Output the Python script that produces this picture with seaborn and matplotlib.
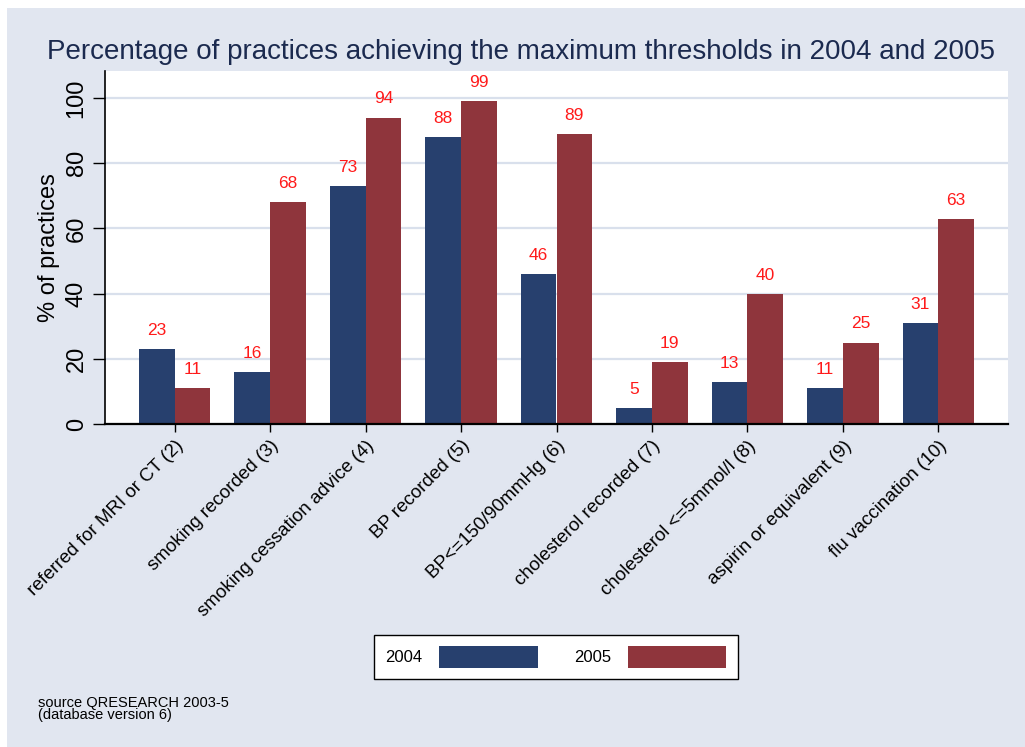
import pandas as pd
import matplotlib.pyplot as plt
import seaborn as sns
from matplotlib.patches import Rectangle

categories = ["referred for MRI or CT (2)", "smoking recorded (3)", "smoking cessation advice (4)",
              "BP recorded (5)", "BP<=150/90mmHg (6)", "cholesterol recorded (7)",
              "cholesterol <=5mmol/l (8)", "aspirin or equivalent (9)", "flu vaccination (10)"]
values_2004 = [23, 16, 73, 88, 46, 5, 13, 11, 31]
values_2005 = [11, 68, 94, 99, 89, 19, 40, 25, 63]
years = ["2004", "2005"]

df = pd.DataFrame({
    "category": categories * 2,
    "year": [years[0]] * len(categories) + [years[1]] * len(categories),
    "value": values_2004 + values_2005,
})

plt.rcParams["font.family"] = ["Liberation Sans", "DejaVu Sans"]

bg = "#E1E6F0"
grid = "#D9E0EC"
fig = plt.figure(figsize=(10.25, 7.47), dpi=100)
fig.patch.set_facecolor("white")
fig.patches.append(Rectangle((7 / 1025, 0), 1, 1 - 8 / 747, transform=fig.transFigure,
                             facecolor=bg, edgecolor="none", zorder=-10))

ax = fig.add_axes([105 / 1025, 1 - 424 / 747, (1008 - 105) / 1025, (424 - 71) / 747])
sns.barplot(data=df, x="category", y="value", hue="year", palette=["#27406E", "#8F353C"],
            width=0.75, saturation=1, ax=ax, legend=True)
ax.set_facecolor("white")
for c in ax.containers:
    ax.bar_label(c, fmt="%d", padding=8, color="#FF1A1A", fontsize=12.5)

ax.set_xlim(-0.73, 8.73)
ax.set_ylim(0, 108.3)
ax.set_yticks([0, 20, 40, 60, 80, 100])
ax.yaxis.grid(True, color=grid, linewidth=1.6)
ax.set_axisbelow(True)
for s in ["top", "right"]:
    ax.spines[s].set_visible(False)
ax.spines["left"].set_linewidth(1.2)
ax.spines["bottom"].set_linewidth(1.6)
ax.tick_params(axis="y", labelsize=17, rotation=90, length=9, width=1)
ax.tick_params(axis="x", length=6, width=1)
for lbl in ax.get_yticklabels():
    lbl.set_va("center")
ax.set_xticks(range(len(categories)))
ax.set_xticklabels(categories, rotation=45, ha="right", rotation_mode="anchor", fontsize=13.5)
ax.set_xlabel("")
ax.set_ylabel("% of practices", fontsize=17, labelpad=4)

fig.text(0.508, 1 - 52 / 747, "Percentage of practices achieving the maximum thresholds in 2004 and 2005",
         ha="center", va="center", fontsize=20, color="#1B2A4F",
         family=["Liberation Sans Narrow", "Liberation Sans"])

ax.legend_.remove()
handles, labels = ax.get_legend_handles_labels()
leg = fig.legend(handles, labels, ncol=2, loc="center", bbox_to_anchor=(556 / 1025, 1 - 657 / 747),
                 markerfirst=False, handlelength=5.9, handleheight=1.6, fontsize=12,
                 frameon=True, fancybox=False, edgecolor="black", framealpha=1, facecolor="white",
                 borderpad=0.7, columnspacing=2.2, handletextpad=1.0, borderaxespad=0)
leg.get_frame().set_linewidth(1.0)

fig.text(38 / 1025, 1 - 709 / 747, "source QRESEARCH 2003-5\n(database version 6)",
         ha="left", va="center", fontsize=10.5, linespacing=0.9)

plt.savefig("out.png", dpi=100, facecolor=fig.get_facecolor())
